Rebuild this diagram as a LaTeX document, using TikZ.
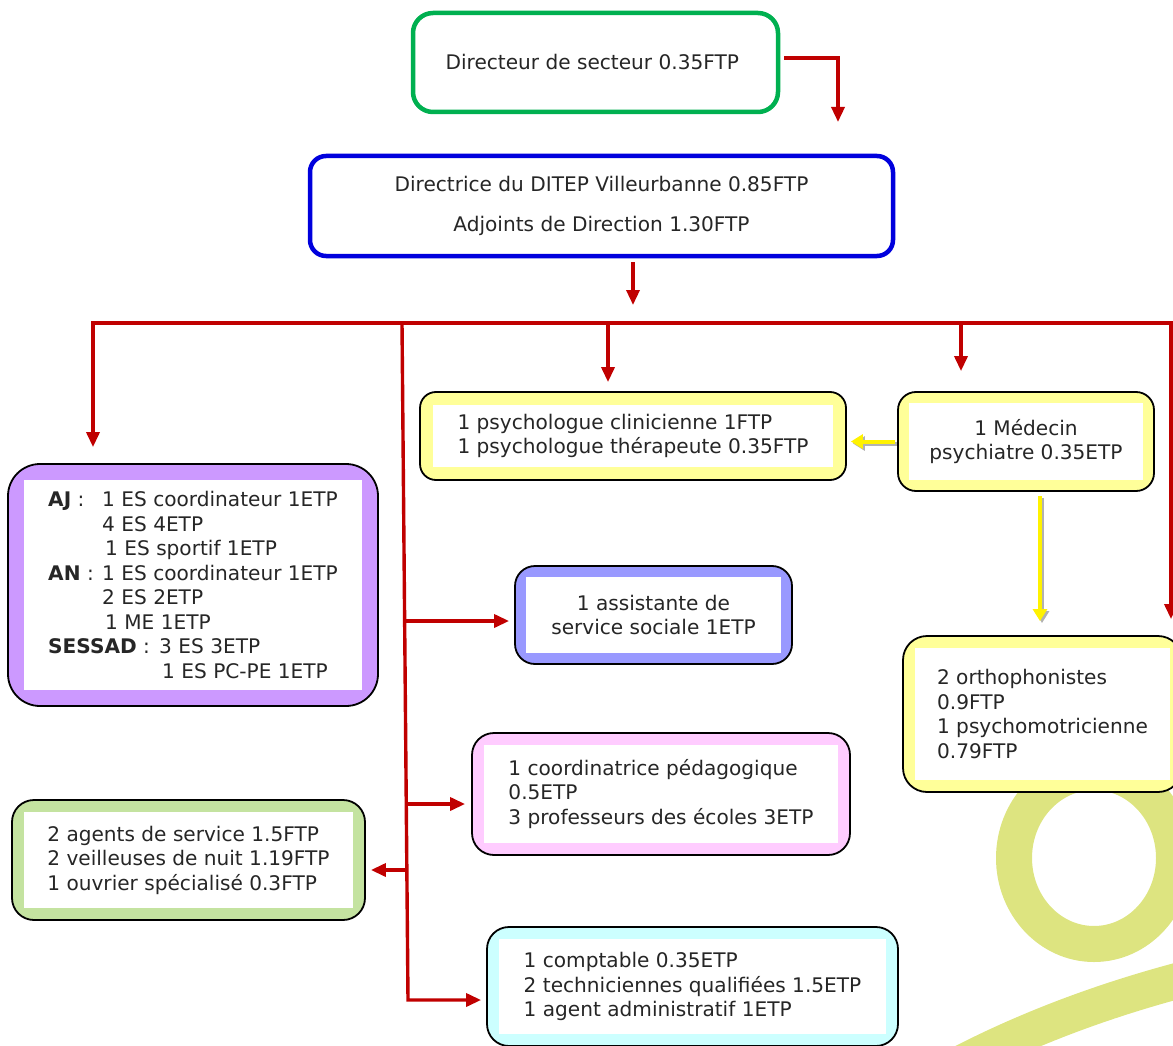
\documentclass[tikz,border=0pt]{standalone}
\usepackage{fontspec}
\setmainfont{DejaVu Sans}
\usetikzlibrary{arrows.meta}

\definecolor{rougeF}{HTML}{C00000}
\definecolor{vertC}{HTML}{00B050}
\definecolor{bleuC}{HTML}{0000DD}
\definecolor{violetF}{HTML}{CC99FF}
\definecolor{jauneF}{HTML}{FFFF99}
\definecolor{lilasF}{HTML}{9999FF}
\definecolor{roseF}{HTML}{FFCCFF}
\definecolor{vertF}{HTML}{C4E3A0}
\definecolor{cyanF}{HTML}{CCFFFF}
\definecolor{decoF}{HTML}{DDE480}

\tikzset{
	cadre/.style={shape=rectangle, rounded corners=20pt, draw=black, line width=1.8pt, align=left, inner sep=0pt,
		path picture={\fill[white, sharp corners] ([shift={(#1pt,-#1pt)}]path picture bounding box.north west) rectangle ([shift={(-#1pt,#1pt)}]path picture bounding box.south east);}},
	cadre/.default=12,
	fleche/.style={draw=rougeF, line width=3.4pt, -{Triangle[length=15pt,width=13pt]}},
	jaune/.style={draw=yellow, line width=4pt, -{Triangle[length=12pt,width=14pt]}},
	ombre/.style={draw=black!30, line width=4pt, -{Triangle[length=12pt,width=14pt]}, transform canvas={shift={(2pt,-2pt)}}},
	deco/.style={draw=decoF, line width=36pt}
}

\begin{document}
\begin{tikzpicture}[x=1pt, y=-1pt, every node/.style={font=\fontsize{20.1}{24.5}\selectfont, text=black!85}]
	\useasboundingbox (0,0) rectangle (1173,1046);
	\clip (0,0) rectangle (1173,1046);

	% motif de fond
	\draw[deco] (1094,858) ellipse [x radius=80pt, y radius=86pt];
	\draw[deco] (930,1080) .. controls (1010,1035) and (1100,1000) .. (1200,975);

	\node (dir)[shape=rectangle, rounded corners=20pt, draw=vertC, line width=4.5pt, fill=white, minimum width=365pt, minimum height=99pt, align=center]
	at (595.5,62.5){
		Directeur de secteur 0.35FTP
	};

	\node (ditep)[shape=rectangle, rounded corners=16pt, draw=bleuC, line width=4.5pt, fill=white, minimum width=583pt, minimum height=100pt, align=center]
	at (601.5,206){
		Directrice du DITEP Villeurbanne 0.85FTP \\[15.5pt] Adjoints de Direction 1.30FTP
	};

	\node (aj)[cadre=16, rounded corners=32pt, fill=violetF, minimum width=370pt, minimum height=242pt]
	at (193,585){
		\makebox[54pt][l]{\textbf{AJ} :}1 ES coordinateur 1ETP \\
		\hspace*{54pt}4 ES 4ETP \\
		\hspace*{57pt}1 ES sportif 1ETP \\
		\makebox[54pt][l]{\textbf{AN} :}1 ES coordinateur 1ETP \\
		\hspace*{54pt}2 ES 2ETP \\
		\hspace*{57pt}1 ME 1ETP \\
		\makebox[111pt][l]{\textbf{SESSAD} :}3 ES 3ETP \\
		\hspace*{114pt}1 ES PC-PE 1ETP
	};

	\node (psy)[cadre=13, rounded corners=16pt, fill=jauneF, minimum width=426pt, minimum height=88pt]
	at (633,436){
		1 psychologue clinicienne 1FTP \\ 1 psychologue thérapeute 0.35FTP
	};

	\node (med)[cadre=11, rounded corners=18pt, fill=jauneF, minimum width=256pt, minimum height=99pt, align=center]
	at (1026,441.5){
		1 Médecin \\ psychiatre 0.35ETP
	};

	\node (ass)[cadre=11, fill=lilasF, minimum width=277pt, minimum height=98pt, align=center]
	at (653.5,615){
		1 assistante de \\ service sociale 1ETP
	};

	\node (ortho)[cadre, rounded corners=24pt, fill=jauneF, minimum width=279pt, minimum height=156pt]
	at (1042.5,714){
		2 orthophonistes \\ 0.9FTP \\ 1 psychomotricienne \\ 0.79FTP
	};

	\node (ped)[cadre, rounded corners=22pt, fill=roseF, minimum width=378pt, minimum height=122pt]
	at (661,794){
		1 coordinatrice pédagogique \\ 0.5ETP \\ 3 professeurs des écoles 3ETP
	};

	\node (serv)[cadre, rounded corners=22pt, fill=vertF, minimum width=353pt, minimum height=120pt]
	at (188.5,860){
		2 agents de service 1.5FTP \\ 2 veilleuses de nuit 1.19FTP \\ 1 ouvrier spécialisé 0.3FTP
	};

	\node (adm)[cadre, rounded corners=22pt, fill=cyanF, minimum width=411pt, minimum height=119pt]
	at (692.5,986.5){
		1 comptable 0.35ETP \\ 2 techniciennes qualifiées 1.5ETP \\ 1 agent administratif 1ETP
	};

	% points de raccordement
	\coordinate (c1) at (838,122);
	\coordinate (c2) at (633,305);
	\coordinate (bg) at (93,323);
	\coordinate (bd) at (1171,323);
	\coordinate (c3) at (608,323);
	\coordinate (c4) at (961,323);
	\coordinate (t0) at (402,323);
	\coordinate (t1) at (404.6,621);
	\coordinate (t2) at (405.6,804);
	\coordinate (t3) at (406,870);
	\coordinate (t4) at (408,1000);

	\draw[fleche, shorten <=4pt] ([shift={(0pt,4.5pt)}]dir.east) -| (c1);
	\draw[fleche, shorten <=4pt] (ditep.south -| c2) -- (c2);
	\draw[fleche, shorten >=16pt] (bd) -- (bg) -- (bg |- aj.north);
	\draw[fleche, shorten >=16pt] (bg) -- (bd) -- (bd |- ortho.north);
	\draw[fleche, shorten >=9pt] (c3) -- (c3 |- psy.north);
	\draw[fleche, shorten >=20pt] (c4) -- (c4 |- med.north);
	\draw[fleche, shorten >=5pt] (t0) -- (t4) -- (t4 -| adm.west);
	\draw[fleche, shorten >=5pt] (t1) -- (t1 -| ass.west);
	\draw[fleche, shorten >=6pt] (t2) -- (t2 -| ped.west);
	\draw[fleche, shorten >=5pt] (t3) -- (t3 -| serv.east);

	\foreach \s in {ombre,jaune}{
		\draw[\s, shorten <=2pt, shorten >=4pt] (med.west) -- (med.west -| psy.east);
		\draw[\s, shorten <=4pt, shorten >=14pt] ([xshift=14pt]med.south) -- ([xshift=14pt]med.south |- ortho.north);
	}
\end{tikzpicture}
\end{document}
